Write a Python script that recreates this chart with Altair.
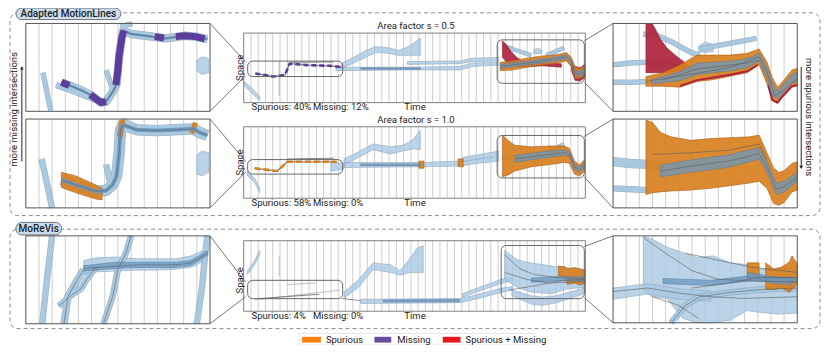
import altair as alt
import pandas as pd

# ================= data =================
# overview panels: time in grid steps 0..47, space 0 (bottom) .. 100 (top)
# zoom panels:     time in grid steps 0..14, space 0 .. 100
# bands  -> (time, low, high)      tracks -> (time, space)

# ---- Adapted MotionLines, s = 0.5 : overview ----
R1M_WAVE = [(13.5, 49, 57), (15.1, 57, 65), (16.8, 65, 75), (18.1, 72, 80.5), (19.9, 71, 79),
            (21.3, 68, 75), (22.5, 68, 80), (23.3, 68, 85), (24.3, 68, 93)]
R1M_FLAT1 = [(12.7, 46, 51), (22, 47, 51), (29.7, 47, 52), (31.5, 52, 57), (35.1, 54, 58)]
R1M_FLAT2 = [(22.5, 55, 59), (29.7, 56, 60), (31.5, 59, 64), (35.1, 60, 65)]
R1M_CORE = [(16.1, 48, 50), (24.3, 48, 50)]
R1M_DIAG = [(0.1, 24, 30), (1.1, 14, 21), (2.2, 3, 9)]
R1M_RED = [(35.6, 65, 89), (36.2, 58, 82), (36.9, 54, 72), (37.6, 53, 65), (38.3, 51, 60),
           (41.0, 53, 57), (43.7, 51, 56)]
R1M_RED2 = [(45.1, 46, 56), (45.6, 32, 52), (46.3, 31, 50), (47, 37, 56)]
R1M_BUNDLE = [(35.3, 46, 58), (36.9, 47, 60), (39.0, 51, 64), (41.0, 54, 67), (43.1, 57, 69),
              (44.4, 60, 72), (45.1, 51, 65), (45.6, 35, 51), (46.3, 35, 49), (47.0, 40, 54)]
R1M_BCORE = [(35.3, 49, 55), (39, 54, 60), (43.1, 60, 66), (44.4, 63, 69), (45.1, 55, 61),
             (45.6, 39, 46), (46.3, 38, 45), (47, 43, 50)]
R1M_BLOB = [(39.9, 71, 76), (40.5, 70, 78), (41.0, 71, 76)]
R1M_TRACK = [(1.6, 42), (4.1, 37.5), (5.7, 40), (6.3, 56), (8.7, 54), (11.9, 53), (13.5, 51)]
R1M_TRACK_TOP = [(6.3, 58), (12.4, 58.5)]
R1M_VLINE = [(4.9, 10), (4.9, 58)]
R1M_LBL1 = [(35.6, 83), (37.6, 75), (39.6, 68)]
R1M_LBL2 = [(41.6, 68), (44.1, 79)]
R1M_G1 = [(35.3, 52), (39, 57), (43.1, 63), (44.4, 66), (45.1, 58), (45.6, 42), (46.3, 41), (47, 46)]

# ---- Adapted MotionLines, s = 1.0 : overview ----
R2M_WAVE = [(13.8, 47, 55), (15.8, 57, 65), (17.8, 68, 76), (20.2, 62, 72), (21.9, 66, 74),
            (23.3, 69, 82), (24.3, 68, 95)]
R2M_FLAT1 = [(13.8, 43, 50), (24.3, 44, 50), (29.7, 45, 52), (31.5, 48, 54), (35.1, 52, 58)]
R2M_FLAT2 = [(30.1, 51, 57), (35.1, 60, 66)]
R2M_CORE = [(16.1, 45.5, 48), (24.3, 45.5, 48)]
R2M_SPOT1 = [(24.1, 42, 52), (24.8, 42, 52)]
R2M_SPOT2 = [(29.5, 44, 55), (30.2, 44, 55)]
R2M_DIAG = [(0.5, 32, 38), (1.5, 22, 28), (2.2, 8, 14)]
R2M_STUB = [(12.0, 38, 50), (13.8, 41, 49)]
R2M_BUNDLE = [(35.6, 30, 88), (36.5, 33, 80), (37.3, 38, 74), (39.6, 44, 72), (42.0, 47, 73),
              (44.1, 50, 73), (44.8, 49, 70), (45.5, 34, 52), (46.2, 31, 47), (46.9, 38, 54)]
R2M_BCORE = [(37.3, 50, 60), (39.6, 54, 63), (42, 57, 66), (44.1, 60, 68), (44.8, 58, 65),
             (45.5, 40, 48), (46.2, 37, 44), (46.9, 43, 50)]
R2M_TRACK = [(1.5, 42), (4.6, 38), (6.0, 51), (12.8, 51)]
R2M_TRACK_TOP = [(6.0, 55), (12.4, 56)]
R2M_LBL1 = [(42.0, 65), (44.1, 76)]
R2M_LBL2 = [(35.6, 56), (38.3, 59), (41, 61)]
R2M_G1 = [(37.3, 55), (39.6, 58), (42, 61), (44.1, 64), (44.8, 61), (45.5, 44), (46.2, 40), (46.9, 46)]

# ---- MoReVis : overview ----
R3M_WAVE = [(13.8, 18, 27), (15.8, 34, 45), (17.8, 59, 68.5), (20.2, 55, 66), (21.5, 51, 57.5),
            (22.9, 55, 75), (23.8, 55, 89), (24.7, 55, 93)]
R3M_FLAT1 = [(16.1, 11, 17), (29.7, 12, 18), (31.5, 16, 22), (35.6, 27, 33), (37, 30, 35)]
R3M_FLAT2 = [(30.1, 20, 25), (35.6, 40, 46), (37, 43, 48)]
R3M_CORE = [(19.2, 13, 16), (29.7, 13.5, 16.5)]
R3M_RISE = [(0.5, 52, 57), (1.4, 64, 70), (2.2, 80, 86)]
R3M_FAN = [(35.9, 45, 86), (37.6, 34, 73), (39.6, 27, 68.5), (42.4, 25, 64), (44.4, 31.5, 62), (46.9, 34, 59)]
R3M_FAN2 = [(36.9, 22, 30), (39.6, 10, 22), (41, 8, 20), (43, 12, 22), (46.9, 25, 33)]
R3M_FCORE = [(39.6, 41, 47), (43, 43, 49), (46.9, 43, 49)]
R3M_OR = [(43.3, 50, 64), (44.2, 50, 63), (44.5, 38, 60), (45.5, 40, 62), (46.3, 37, 60), (47, 40, 58)]
R3M_THIN = [(13.5, 18), (16.1, 15)]
R3M_G1 = [(1.5, 16), (13.3, 30)]
R3M_G2 = [(2.2, 18), (10.4, 24)]
R3M_G3 = [(6.0, 38), (10, 40)]
R3M_VLINE = [(4.9, 50), (4.9, 78)]
R3M_FL1 = [(35.9, 80), (38, 60), (40, 52), (43, 48), (47, 46)]
R3M_FL2 = [(35.9, 55), (39, 45), (42, 40), (47, 42)]
R3M_FL3 = [(36.5, 30), (40, 36), (44, 44), (47, 45)]

# ---- left zoom panels ----
R1L_MAIN = [(2.7, 33), (3.5, 28.5), (4.2, 24), (5.0, 18), (5.7, 10), (6.1, 11), (6.6, 22), (6.9, 31),
            (7.0, 47), (7.1, 64), (7.3, 84), (7.4, 92), (8.0, 88), (9.1, 86), (10.6, 83), (12.1, 86),
            (12.9, 85), (13.8, 82)]
R1L_PU1 = [(2.7, 33), (3.3, 29.5)]
R1L_PU2 = [(4.9, 19), (5.7, 10), (6.1, 11)]
R1L_PU3 = [(6.85, 30), (7.0, 47), (7.1, 64), (7.3, 84), (7.45, 92)]
R1L_PU4 = [(9.8, 85), (10.5, 83.5)]
R1L_PU5 = [(11.4, 85), (12.1, 86), (12.9, 85), (13.6, 82.5)]
R1L_LOW = [(2.3, 30), (3.8, 22), (5.3, 13)]
R1L_DIAG = [(1.3, 44), (1.6, 22), (1.9, 1)]
R1L_VERT = [(6.1, 47), (6.6, 25)]
R1L_ARC = [(7.2, 96), (7.7, 98.5), (8.1, 99.5)]
R1L_RARC = [(13.0, 46, 58), (13.4, 42, 62), (13.9, 44, 60)]

R2L_MAIN = [(2.7, 31.5), (3.8, 26), (5.3, 18.5), (6.1, 19.6), (6.6, 26), (6.9, 36), (7.1, 63), (7.2, 88),
            (7.4, 93.5), (8.4, 88), (9.9, 87), (11.4, 88), (12.7, 89), (13.2, 85), (13.8, 81.5)]
R2L_OR = [(2.7, 23, 40), (3.8, 17, 36), (5.3, 10, 26), (5.8, 9, 22)]
R2L_OR2 = [(7.15, 80), (7.35, 99)]
R2L_OR3 = [(12.6, 84), (12.9, 96)]
R2L_DIAG = [(1.2, 55), (1.6, 28), (2.0, 0)]
R2L_VERT = [(6.1, 49), (6.5, 23)]
R2L_ARC = [(7.4, 99), (8.0, 93.5)]
R2L_RARC = [(13.0, 38, 60), (13.4, 36, 64), (13.9, 40, 62)]

R3L_STEEP = [(2.0, 100), (1.6, 50), (1.25, 0)]
R3L_BAND = [(4.4, 56, 72), (5.3, 59, 75), (6.8, 60, 76), (8.4, 61, 74), (9.9, 61, 74), (11.4, 62, 74),
            (12.5, 64, 77), (13.0, 67, 80), (13.8, 75, 86)]
R3L_CORE = [(4.4, 60, 66), (6.8, 63, 70), (8.4, 64, 70), (11.4, 64, 70), (12.5, 66, 72), (13.0, 70, 76),
            (13.8, 78, 83)]
R3L_RISE1 = [(2.9, 0), (3.2, 31), (3.8, 47), (4.4, 61.5)]
R3L_RISE2 = [(2.5, 20), (3.5, 33), (4.2, 40), (4.6, 50), (5.3, 64)]
R3L_DIAG = [(5.9, 0), (6.6, 31), (7.0, 61.5), (7.6, 80), (8.0, 100)]
R3L_RDIAG = [(13.0, 0), (13.4, 42), (13.6, 75), (13.8, 100)]
R3L_G1 = [(4.4, 63), (8.4, 67), (11.4, 67), (12.5, 69), (13.8, 80)]

# ---- right zoom panels ----
R1R_RED = [(2.5, 44, 100), (3.0, 44, 99), (3.2, 44, 94), (3.6, 44, 82), (4.1, 44, 72), (4.8, 44, 63),
           (5.5, 45, 55), (5.9, 46, 50), (6.0, 47, 48)]
R1R_BUNDLE = [(2.5, 28.5, 39.5), (3.8, 28.5, 44), (5.1, 27.5, 53), (6.4, 34, 64), (7.6, 36, 64),
              (8.9, 40, 64), (10.2, 44, 66), (11.1, 53, 71), (11.7, 31, 56), (12.1, 12, 38.5),
              (12.5, 9, 27.5), (12.9, 16.5, 34), (13.6, 27.5, 47), (14, 29, 49)]
R1R_BCORE = [(2.9, 31, 36), (5.1, 35, 45), (6.4, 42, 55), (8.9, 46, 57), (10.2, 50, 60), (11.1, 57, 66),
             (11.7, 38, 50), (12.1, 18, 32), (12.5, 14, 23), (12.9, 20, 30), (13.6, 32, 42), (14, 34, 44)]
R1R_REDLINE = [(5.1, 29), (6.4, 35.5), (8.9, 41.5), (10.2, 45.5), (11.0, 53)]
R1R_REDEND = [(11.8, 30), (12.1, 13), (12.5, 10), (12.9, 17.5), (13.6, 28.5), (14, 30)]
R1R_ARC = [(2.3, 88), (3.4, 86), (4.6, 78), (5.9, 67), (6.6, 64)]
R1R_L1 = [(0, 53), (1.35, 55), (2.6, 56), (4.1, 53), (5.1, 49.5)]
R1R_L2 = [(0, 33), (1.35, 33), (2.6, 34)]
R1R_L3 = [(6.6, 71), (10.9, 83)]
R1R_BLOB = [(6.5, 68, 74), (7.0, 67, 79), (7.6, 68, 76)]
R1R_VBAR = [(4.5, 42), (4.5, 56)]
R1R_G1 = [(2.5, 34), (5.1, 40), (8.9, 50), (11.1, 62), (11.7, 44), (12.3, 18), (13, 24), (14, 38)]
R1R_G2 = [(3.8, 36), (6.4, 48), (10.2, 55), (11.1, 58)]

R2R_OR = [(2.5, 15, 99), (3.0, 17, 96), (3.6, 18, 85), (4.4, 19, 80), (5.9, 20, 76), (7.4, 22, 78),
          (8.9, 25, 79), (10.4, 28, 80), (11.1, 30, 82), (11.7, 22, 62), (12.2, 5, 45), (12.6, 3, 40),
          (13.0, 6, 42), (13.6, 18, 50), (14.0, 20, 52)]
R2R_CORE = [(3.6, 35, 48), (5.9, 40, 54), (8.9, 46, 60), (11.1, 55, 68), (11.7, 40, 52), (12.4, 15, 28),
            (13.0, 18, 30), (14, 30, 40)]
R2R_L1 = [(0, 52), (1.35, 50), (2.6, 49), (4.1, 47)]
R2R_L2 = [(0, 22), (1.35, 21), (2.6, 20)]
R2R_G1 = [(3.6, 41), (5.9, 47), (8.9, 53), (11.1, 61), (11.7, 46), (12.4, 21), (13, 24), (14, 35)]
R2R_G2 = [(3.0, 60), (5.9, 62), (8.9, 65), (11.1, 72), (11.7, 55)]

R3R_FAN = [(2.3, 36, 100), (3.0, 30, 96), (4.1, 28, 87), (5.3, 5, 81), (6.4, 0, 75), (7.6, 0, 77),
           (8.9, 3, 69), (10.2, 14, 67), (11.1, 12, 62), (12.5, 10, 62), (14.0, 11, 64)]
R3R_LEFT = [(0, 27, 40), (2.6, 33, 45), (5.1, 27, 39), (7.4, 25, 37)]
R3R_CORE1 = [(3.8, 45, 51), (7.4, 43, 49), (10.4, 48, 54), (14, 47, 52)]
R3R_DBT = [(4.4, 0), (5.5, 20), (6.6, 30), (8.9, 35), (11, 38), (14, 40)]
R3R_OR1 = [(10.2, 50, 69), (11.1, 52, 69)]
R3R_OR2 = [(11.6, 39, 69), (12.2, 38, 62), (12.8, 40, 64), (13.4, 35, 70), (13.6, 38, 77), (14, 45, 68)]
R3R_OCORE = [(10.2, 52, 58), (11.1, 50, 56), (12.2, 45, 52), (13.6, 44, 52)]
R3R_G1 = [(0, 36), (2.6, 40), (5.1, 34), (7.4, 30), (10, 28), (14, 30)]
R3R_G2 = [(2.3, 98), (4, 80), (6, 60), (8, 50), (11, 48), (14, 47)]
R3R_G3 = [(3, 30), (5, 20), (6.5, 5)]
R3R_G4 = [(5.5, 80), (8, 72), (10.5, 64), (14, 58)]
R3R_G5 = [(6, 40), (8.5, 45), (11, 52), (14, 52)]

GRID_MID = list(range(1, 47))
GRID_ZOOM = list(range(1, 14))

TITLES = ["Area factor s = 0.5", "Area factor s = 1.0"]
SPURIOUS = ["Spurious: 40%", "Spurious: 58%", "Spurious: 4%"]
MISSING = ["Missing: 12%", "Missing: 0%", "Missing: 0%"]
GROUPS = ["Adapted MotionLines", "MoReVis"]
LEGEND = ["Spurious", "Missing", "Spurious + Missing"]
LEGEND_COLORS = ["#ff7f0e", "#6a4c9c", "#e31a1c"]
SIDE = ["more missing intersections", "more spurious intersections"]

# ================= layout (reference pixel frame) =================
W, H = 815, 337
IMG_X = [1, 824]
IMG_Y = [1, 350]


def cx(v):
    return (v - IMG_X[0]) * W / (IMG_X[1] - IMG_X[0])


def cy(v):
    return (v - IMG_Y[0]) * H / (IMG_Y[1] - IMG_Y[0])


CX = alt.Scale(domain=IMG_X, range=[0, W], nice=False, zero=False)
CY = alt.Scale(domain=IMG_Y, range=[0, H], nice=False, zero=False)

PANELS = {
    "r1l": ((19, 17, 205, 108), 14), "r1m": ((239, 27, 584, 99), 47), "r1r": ((612, 17, 798, 108), 14),
    "r2l": ((19, 116, 205, 208), 14), "r2m": ((239, 124, 584, 198), 47), "r2r": ((612, 116, 798, 208), 14),
    "r3l": ((19, 237, 205, 328), 14), "r3m": ((239, 242, 584, 315), 47), "r3r": ((612, 237, 798, 327), 14),
}

AREAS = {
    "r1m": [("lb", R1M_WAVE), ("lb", R1M_FLAT1), ("lb", R1M_FLAT2), ("lb", R1M_DIAG), ("lb", R1M_BLOB),
            ("db", R1M_CORE), ("rd", R1M_RED), ("rd", R1M_RED2), ("or", R1M_BUNDLE), ("db", R1M_BCORE)],
    "r2m": [("lb", R2M_WAVE), ("lb", R2M_FLAT1), ("lb", R2M_FLAT2), ("lb", R2M_DIAG), ("lb", R2M_STUB),
            ("db", R2M_CORE), ("or", R2M_SPOT1), ("or", R2M_SPOT2), ("or", R2M_BUNDLE), ("db", R2M_BCORE)],
    "r3m": [("lb", R3M_WAVE), ("lb", R3M_FLAT1), ("lb", R3M_FLAT2), ("lb", R3M_RISE), ("lb", R3M_FAN),
            ("lb", R3M_FAN2), ("db", R3M_CORE), ("db", R3M_FCORE), ("or", R3M_OR)],
    "r1l": [("lb", R1L_RARC)],
    "r2l": [("lb", R2L_RARC), ("or", R2L_OR)],
    "r3l": [("lb", R3L_BAND), ("db", R3L_CORE)],
    "r1r": [("lb", R1R_BLOB), ("rd", R1R_RED), ("or", R1R_BUNDLE), ("db", R1R_BCORE)],
    "r2r": [("or", R2R_OR), ("db", R2R_CORE)],
    "r3r": [("lb", R3R_FAN), ("lb", R3R_LEFT), ("db", R3R_CORE1), ("or", R3R_OR1), ("or", R3R_OR2),
            ("db", R3R_OCORE)],
}

TRACKS = {
    "r1m": [("lg", 1.2, R1M_VLINE), ("gr", 1.0, R1M_TRACK_TOP), ("gr", 1.3, R1M_TRACK), ("pud", 2.6, R1M_TRACK),
            ("lb", 3, R1M_LBL1), ("lb", 3, R1M_LBL2), ("gr", 0.8, R1M_G1)],
    "r2m": [("gr", 1.0, R2M_TRACK_TOP), ("gr", 1.3, R2M_TRACK), ("ord", 2.6, R2M_TRACK),
            ("lb", 3, R2M_LBL1), ("lb", 3, R2M_LBL2), ("gr", 0.8, R2M_G1)],
    "r3m": [("gr", 0.9, R3M_THIN), ("lg", 1, R3M_G1), ("gr", 1, R3M_G2), ("lg", 1, R3M_G3), ("lg", 1, R3M_VLINE),
            ("gr", 0.8, R3M_FL1), ("gr", 0.8, R3M_FL2), ("gr", 0.8, R3M_FL3)],
    "r1l": [("lb", 5, R1L_LOW), ("lb", 4, R1L_DIAG), ("lb", 4, R1L_VERT), ("lb", 4, R1L_ARC), ("lb", 7, R1L_MAIN),
            ("db", 2.5, R1L_MAIN), ("gr", 0.8, R1L_MAIN), ("pu", 7, R1L_PU1), ("pu", 7, R1L_PU2), ("pu", 7, R1L_PU3),
            ("pu", 7, R1L_PU4), ("pu", 7, R1L_PU5)],
    "r2l": [("lb", 5, R2L_DIAG), ("lb", 5, R2L_VERT), ("lb", 4, R2L_ARC), ("lb", 10, R2L_MAIN),
            ("or", 6, R2L_OR2), ("or", 5, R2L_OR3), ("db", 4, R2L_MAIN), ("gr", 0.8, R2L_MAIN)],
    "r3l": [("lb", 5, R3L_STEEP), ("lb", 6, R3L_RISE1), ("lb", 5, R3L_RISE2), ("lb", 5, R3L_DIAG),
            ("lb", 5, R3L_RDIAG), ("gr", 0.8, R3L_RISE1), ("gr", 0.8, R3L_RISE2), ("gr", 0.8, R3L_DIAG),
            ("gr", 0.8, R3L_G1)],
    "r1r": [("lb", 4, R1R_ARC), ("lb", 4, R1R_L1), ("lb", 4, R1R_L2), ("lb", 4, R1R_L3), ("lb", 4, R1R_VBAR),
            ("rd", 2, R1R_REDLINE), ("rd", 2, R1R_REDEND), ("gr", 0.8, R1R_G1), ("gr", 0.8, R1R_G2)],
    "r2r": [("lb", 8, R2R_L1), ("lb", 5, R2R_L2), ("gr", 0.8, R2R_G1), ("gr", 0.8, R2R_G2)],
    "r3r": [("lb", 5, R3R_DBT), ("gr", 0.8, R3R_DBT), ("gr", 0.8, R3R_G1), ("gr", 0.8, R3R_G2),
            ("gr", 0.8, R3R_G3), ("gr", 0.8, R3R_G4), ("gr", 0.8, R3R_G5)],
}

AREA_STYLE = {
    "lb": dict(fill="#a9c8e2", fillOpacity=0.8, stroke="#8ea8bd", strokeWidth=0.6),
    "rd": dict(fill="#b0233b", fillOpacity=0.92, stroke="#8c1a2c", strokeWidth=0.6),
    "or": dict(fill="#d8801f", fillOpacity=0.92, stroke="#a95c12", strokeWidth=0.6),
    "db": dict(fill="#6a97bf", fillOpacity=0.75, stroke="#55799a", strokeWidth=0.5),
}
LINE_STYLE = {
    "lb": dict(color="#aacae3", opacity=0.95),
    "lg": dict(color="#b9b9b9", opacity=0.9),
    "rd": dict(color="#b0233b"),
    "or": dict(color="#d8801f"),
    "db": dict(color="#6a97bf", opacity=0.9),
    "gr": dict(color="#5e5e5e", opacity=0.75),
    "pu": dict(color="#5b3d9b"),
    "pud": dict(color="#5b3d9b", strokeDash=[5, 3]),
    "ord": dict(color="#d8801f", strokeDash=[6, 3]),
}
ORDER = ["A:lb", "L:lb", "L:lg", "A:rd", "A:or", "L:or", "L:rd", "A:db", "L:db", "L:gr", "L:pu", "L:pud", "L:ord"]


def panel_layers(key):
    rect, steps = PANELS[key]
    xs = alt.Scale(domain=[0, steps], range=[cx(rect[0]), cx(rect[2])], nice=False, zero=False)
    ys = alt.Scale(domain=[0, 100], range=[cy(rect[3]), cy(rect[1])], nice=False, zero=False)
    out = []
    grid = pd.DataFrame({"t": GRID_MID if steps == 47 else GRID_ZOOM})
    grid["lo"] = 0
    grid["hi"] = 100
    out.append(alt.Chart(grid).mark_rule(color="#cdcdcd", strokeWidth=1).encode(
        x=alt.X("t:Q", scale=xs, axis=None), y=alt.Y("lo:Q", scale=ys, axis=None), y2="hi:Q"))
    areas = AREAS.get(key, [])
    tracks = TRACKS.get(key, [])

    def line(df, **style):
        return alt.Chart(df).mark_line(strokeCap="butt", strokeJoin="round", **style).encode(
            x=alt.X("t:Q", scale=xs, axis=None), y=alt.Y("s:Q", scale=ys, axis=None),
            detail="id:N", order="i:Q", size=alt.Size("w:Q", scale=None))

    for item in ORDER:
        typ, k = item.split(":")
        if typ == "A":
            rows = [dict(id=n, t=t, lo=lo, hi=hi) for n, (kk, pts) in enumerate(areas) if kk == k
                    for (t, lo, hi) in pts]
            if rows:
                out.append(alt.Chart(pd.DataFrame(rows)).mark_area(**AREA_STYLE[k]).encode(
                    x=alt.X("t:Q", scale=xs, axis=None), y=alt.Y("lo:Q", scale=ys, axis=None),
                    y2="hi:Q", detail="id:N"))
        else:
            rows = [dict(id=n, i=i, t=t, s=s, w=w) for n, (kk, w, pts) in enumerate(tracks) if kk == k
                    for i, (t, s) in enumerate(pts)]
            if rows:
                df = pd.DataFrame(rows)
                if k == "lb":
                    df2 = df.copy()
                    df2["w"] = df2["w"] + 1.4
                    out.append(line(df2, color="#8aa2b6", opacity=0.8))
                out.append(line(df, **LINE_STYLE[k]))
    return out


def rects(rows, **mark):
    df = pd.DataFrame(rows, columns=["x0", "y0", "x1", "y1"])
    return alt.Chart(df).mark_rect(**mark).encode(
        x=alt.X("x0:Q", scale=CX, axis=None), x2="x1:Q",
        y=alt.Y("y0:Q", scale=CY, axis=None), y2="y1:Q")


def texts(rows, **mark):
    df = pd.DataFrame(rows, columns=["x", "y", "label"])
    return alt.Chart(df).mark_text(font="Roboto", **mark).encode(
        x=alt.X("x:Q", scale=CX, axis=None), y=alt.Y("y:Q", scale=CY, axis=None), text="label:N")


def segs(rows, **mark):
    df = pd.DataFrame(rows, columns=["x0", "y0", "x1", "y1"])
    return alt.Chart(df).mark_rule(**mark).encode(
        x=alt.X("x0:Q", scale=CX, axis=None), x2="x1:Q",
        y=alt.Y("y0:Q", scale=CY, axis=None), y2="y1:Q")


layers = []
# group boxes
layers.append(rects([(3, 6, 821, 216), (3, 230, 821, 333)], fillOpacity=0, stroke="#8c8c8c",
                    strokeWidth=1, strokeDash=[4, 3], cornerRadius=8))
# panel backgrounds
layers.append(rects([p[0] for p in PANELS.values()], fill="white", strokeWidth=0))
# panel contents
for key in PANELS:
    layers.extend(panel_layers(key))
# panel frames
layers.append(rects([PANELS[k][0] for k in ("r1m", "r2m", "r3m")], fillOpacity=0, stroke="#808080",
                    strokeWidth=1))
layers.append(rects([PANELS[k][0] for k in ("r1l", "r1r", "r2l", "r2r", "r3l", "r3r")], fillOpacity=0,
                    stroke="#555555", strokeWidth=1))
# highlight boxes
layers.append(rects([(243, 56, 339, 72), (495, 34, 583, 79), (243, 158, 339, 173), (495, 133, 583, 177),
                     (243, 283, 339, 302), (499, 247, 583, 302)], fillOpacity=0, stroke="#666666",
                    strokeWidth=1, cornerRadius=5))
# zoom connectors
layers.append(segs([(205, 17, 241, 57), (205, 108, 241, 71), (583, 35, 612, 17), (583, 78, 612, 108),
                    (205, 116, 241, 160), (205, 208, 241, 171), (583, 134, 612, 116), (583, 176, 612, 208),
                    (205, 237, 241, 285), (205, 328, 241, 300), (583, 248, 612, 237), (583, 301, 612, 327)],
                   color="#666666", strokeWidth=0.9))
# group pills
layers.append(rects([(9, 1, 115, 13), (9, 223, 55, 236)], fill="#c9ddee", stroke="#555555",
                    strokeWidth=0.8, cornerRadius=6))
layers.append(texts([(62, 7.3, GROUPS[0]), (32, 229.8, GROUPS[1])], fontSize=10, fontWeight=500,
                    color="#222222", baseline="middle"))
# titles / labels
layers.append(texts([(413, 20, TITLES[0]), (413, 117, TITLES[1]), (412, 104, "Time"), (412, 203, "Time"),
                     (412, 320, "Time")], fontSize=9.5, color="#222222", baseline="middle"))
layers.append(texts([(247, 104, SPURIOUS[0]), (247, 203, SPURIOUS[1]), (247, 320, SPURIOUS[2]),
                     (309, 104, MISSING[0]), (309, 203, MISSING[1]), (309, 320, MISSING[2])],
                    fontSize=9.5, color="#222222", baseline="middle", align="left"))
layers.append(texts([(235, 63, "Space"), (235, 161, "Space"), (235, 283, "Space")], fontSize=9.5,
                    color="#222222", baseline="middle", angle=270))
# side annotations
layers.append(texts([(7, 106, SIDE[0])], fontSize=9.5, color="#222222", baseline="middle", angle=270))
layers.append(texts([(810, 114, SIDE[1])], fontSize=9.5, color="#222222", baseline="middle", angle=90))
layers.append(segs([(15, 64, 15, 160), (802, 62, 802, 165)], color="#222222", strokeWidth=1))
arrow_up = pd.DataFrame({"x": [15], "y": [63]})
arrow_dn = pd.DataFrame({"x": [802], "y": [166]})
layers.append(alt.Chart(arrow_up).mark_point(shape="triangle-up", filled=True, size=14, color="#222222",
                                             opacity=1).encode(
    x=alt.X("x:Q", scale=CX, axis=None), y=alt.Y("y:Q", scale=CY, axis=None)))
layers.append(alt.Chart(arrow_dn).mark_point(shape="triangle-down", filled=True, size=14, color="#222222",
                                             opacity=1).encode(
    x=alt.X("x:Q", scale=CX, axis=None), y=alt.Y("y:Q", scale=CY, axis=None)))
# legend
layers.append(rects([(295, 338, 533, 350)], fill="white", stroke="#dddddd", strokeWidth=0.8))
leg = pd.DataFrame({"x0": [298, 371, 440], "x1": [317, 388, 458], "y0": [341.5] * 3, "y1": [347.5] * 3,
                    "c": LEGEND_COLORS})
layers.append(alt.Chart(leg).mark_rect().encode(
    x=alt.X("x0:Q", scale=CX, axis=None), x2="x1:Q", y=alt.Y("y0:Q", scale=CY, axis=None), y2="y1:Q",
    color=alt.Color("c:N", scale=None)))
layers.append(texts([(322, 344.5, LEGEND[0]), (394, 344.5, LEGEND[1]), (463, 344.5, LEGEND[2])],
                    fontSize=9.5, color="#222222", baseline="middle", align="left"))

chart = alt.layer(*layers).resolve_scale(x="independent", y="independent").properties(
    width=W, height=H, padding=0, autosize="none", background="white"
).configure_view(stroke=None)

chart.save("out.html", embed_options={"renderer": "svg", "actions": False})
